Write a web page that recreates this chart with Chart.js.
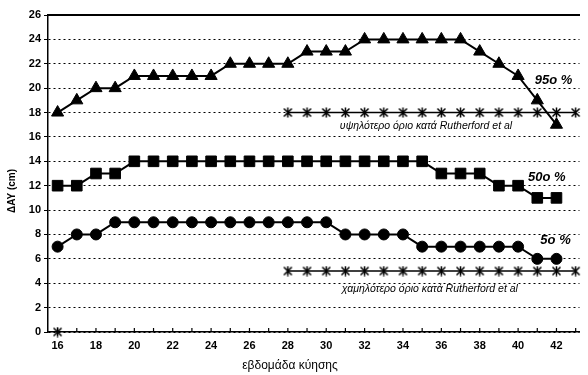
<!DOCTYPE html>
<html><head><meta charset="utf-8">
<script src="https://cdn.jsdelivr.net/npm/chart.js@4"></script>
<style>html,body{margin:0;padding:0;background:#fff}#wrap{width:588px;height:375px}</style>
</head><body><div id="wrap"><canvas id="c"></canvas></div>
<script>
const weeks = [16,17,18,19,20,21,22,23,24,25,26,27,28,29,30,31,32,33,34,35,36,37,38,39,40,41,42];
const p95 = [18,19,20,20,21,21,21,21,21,22,22,22,22,23,23,23,24,24,24,24,24,24,23,22,21,19,17];
const p50 = [12,12,13,13,14,14,14,14,14,14,14,14,14,14,14,14,14,14,14,14,13,13,13,12,12,11,11];
const p5  = [7,8,8,9,9,9,9,9,9,9,9,9,9,9,9,8,8,8,8,7,7,7,7,7,7,6,6];
const rutherfordWeeks = [28,29,30,31,32,33,34,35,36,37,38,39,40,41,42,43];
const upperLimit = [18,18,18,18,18,18,18,18,18,18,18,18,18,18,18,18];
const lowerLimit = [5,5,5,5,5,5,5,5,5,5,5,5,5,5,5,5];
const strayWeek = [16];
const strayValue = [0];
const yTicks = [0,2,4,6,8,10,12,14,16,18,20,22,24,26];
const xTickLabels = [16,18,20,22,24,26,28,30,32,34,36,38,40,42];
const seriesLabels = [
  {text:'95ο %', x:41.85, y:20.6, font:'italic bold 13px "Liberation Sans"'},
  {text:'50ο %', x:41.5, y:12.7, font:'italic bold 13px "Liberation Sans"'},
  {text:'5ο %',  x:41.95, y:7.5, font:'italic bold 13px "Liberation Sans"'},
  {text:'υψηλότερο όριο κατά Rutherford et al', x:35.2, y:16.9, font:'italic 10.5px "Liberation Sans"'},
  {text:'χαμηλότερο όριο κατά Rutherford et al', x:35.4, y:3.5, font:'italic 10.5px "Liberation Sans"'}
];
const xy = (xs, ys) => xs.map((x,i)=>({x, y: ys[i]}));

function starMarker(){
  const c = document.createElement('canvas');
  c.width = 11; c.height = 11;
  const g = c.getContext('2d');
  g.strokeStyle = '#000'; g.lineWidth = 1.5;
  g.beginPath();
  g.moveTo(1.5,1.5); g.lineTo(9.5,9.5);
  g.moveTo(9.5,1.5); g.lineTo(1.5,9.5);
  g.moveTo(5.5,0.5); g.lineTo(5.5,10.5);
  g.stroke();
  return c;
}
const star = starMarker();

const textPlugin = {
  id:'texts',
  afterDatasetsDraw(chart){
    const {ctx, scales:{x,y}} = chart;
    ctx.save();
    ctx.fillStyle = '#000';
    ctx.strokeStyle = '#000';
    ctx.textBaseline = 'middle';
    ctx.textAlign = 'center';
    seriesLabels.forEach(l=>{
      ctx.font = l.font;
      ctx.fillText(l.text, x.getPixelForValue(l.x), y.getPixelForValue(l.y));
    });
    ctx.lineWidth = 1.2;
    const yb = y.getPixelForValue(0);
    weeks.concat([43]).forEach(w=>{
      const px = x.getPixelForValue(w);
      ctx.beginPath(); ctx.moveTo(px, yb); ctx.lineTo(px, yb-4); ctx.stroke();
    });
    ctx.font = 'bold 10px "Liberation Sans"';
    ctx.translate(12, 191);
    ctx.rotate(-Math.PI/2);
    ctx.fillText('ΔΑΥ (cm)', 0, 0);
    ctx.restore();
    ctx.save();
    ctx.fillStyle = '#000';
    ctx.font = '12px "Liberation Sans"';
    ctx.textAlign = 'center';
    ctx.textBaseline = 'middle';
    ctx.fillText('εβδομάδα κύησης', 290, 366);
    ctx.restore();
  }
};

const lineDs = (data, style, radius) => ({
  data, borderColor:'#000', backgroundColor:'#000', borderWidth:2,
  pointStyle: style, pointRadius: radius, pointBorderColor:'#000', pointBackgroundColor:'#000',
  pointBorderWidth:1, tension:0, fill:false, clip:false
});

new Chart(document.getElementById('c'), {
  type:'line',
  data:{ datasets:[
    lineDs(xy(weeks,p95),'triangle',7),
    lineDs(xy(weeks,p50),'rect',7.5),
    lineDs(xy(weeks,p5),'circle',5.5),
    Object.assign(lineDs(xy(rutherfordWeeks,upperLimit),star,5),{borderWidth:1.5}),
    Object.assign(lineDs(xy(rutherfordWeeks,lowerLimit),star,5),{borderWidth:1.5}),
    Object.assign(lineDs(xy(strayWeek,strayValue),star,5),{borderWidth:0,showLine:false})
  ]},
  options:{
    responsive:true, maintainAspectRatio:false, animation:false,
    layout:{padding:{top:15,right:0,left:0,bottom:0}},
    plugins:{legend:{display:false}, tooltip:{enabled:false}},
    scales:{
      x:{type:'linear', min:15.5, max:43.2,
        afterBuildTicks(s){ s.ticks = xTickLabels.map(v=>({value:v})); },
        afterFit(s){ s.height = 43; },
        ticks:{autoSkip:false, maxRotation:0, color:'#000', font:{family:'"Liberation Sans"', size:11, weight:'bold'}, padding:5},
        grid:{drawOnChartArea:false, drawTicks:true, tickLength:2, color:'rgba(0,0,0,0)', tickColor:'rgba(0,0,0,0)'},
        border:{display:true, color:'#000', width:1.5}
      },
      x2:{type:'linear', position:'top', min:15.5, max:43.2, display:true,
        afterFit(s){ s.height = 0; },
        ticks:{display:false}, grid:{display:false}, border:{display:true, color:'#000', width:2}
      },
      y:{min:0, max:26,
        afterBuildTicks(s){ s.ticks = yTicks.map(v=>({value:v})); },
        afterFit(s){ s.width = 48; },
        ticks:{color:'#000', font:{family:'"Liberation Sans"', size:11, weight:'bold'}, padding:3},
        grid:{color:'#000', lineWidth:1, drawTicks:true, tickLength:4, tickColor:'#000'},
        border:{display:true, color:'#000', width:1.5, dash:[2,3]}
      }
    }
  },
  plugins:[textPlugin]
});
</script></body></html>
